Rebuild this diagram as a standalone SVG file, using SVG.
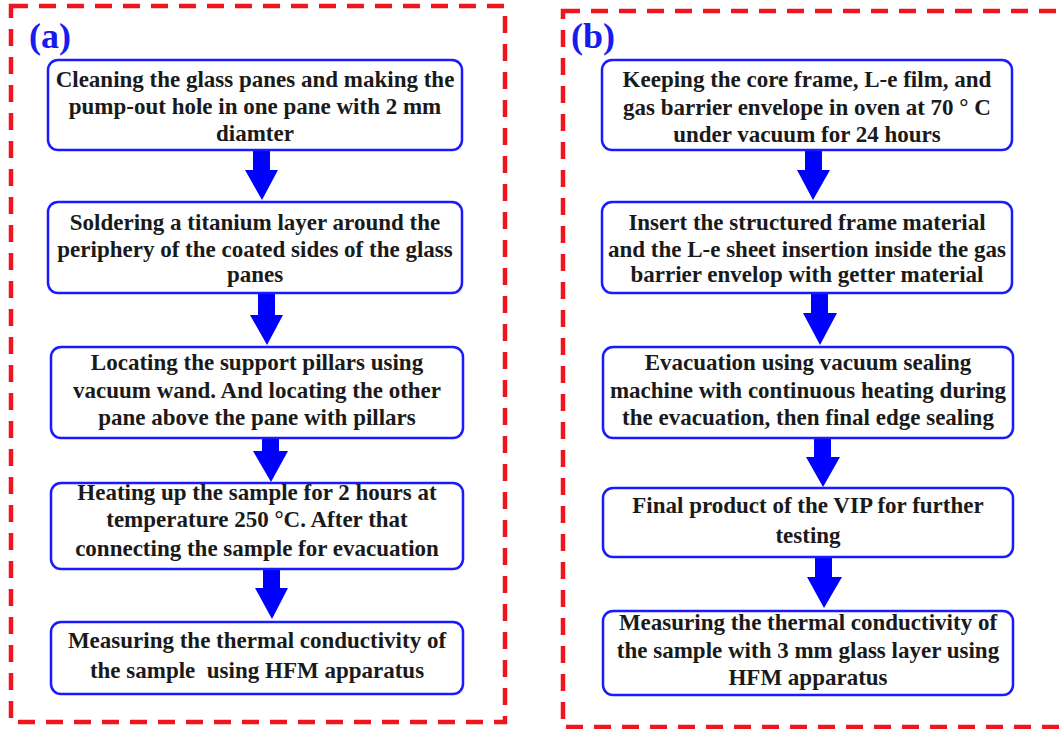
<svg xmlns="http://www.w3.org/2000/svg" width="1060" height="729" viewBox="0 0 1060 729">
<style>
.frame{fill:none;stroke:#f0141e;stroke-width:4.5;stroke-dasharray:17 11}
.box{fill:#fff;stroke:#1a1aff;stroke-width:2.5}
.t{font-family:"Liberation Serif","Times New Roman",serif;font-weight:bold;font-size:23px;fill:#1a1a1a;text-anchor:middle}
.lab{font-family:"Liberation Serif","Times New Roman",serif;font-weight:bold;font-size:36px;fill:#1a1aee}
.arr{fill:#0000ff}
</style>
<rect width="1060" height="729" fill="#fff"/>
<rect class="frame" x="11" y="6" width="494" height="716"/>
<rect class="frame" x="563" y="11" width="520" height="716"/>
<text class="lab" x="29" y="48">(a)</text>
<text class="lab" x="571" y="48">(b)</text>
<g id="connectors">
<path class="arr" d="M253,150 H270 V170 H278 L262,200 L245,170 H253 Z"/>
<path class="arr" d="M258,293 H275 V315 H283 L267,345 L250,315 H258 Z"/>
<path class="arr" d="M262,438 H279 V451 H288 L271,482 L253,451 H262 Z"/>
<path class="arr" d="M263,569 H280 V588 H288 L272,619 L255,588 H263 Z"/>
<path class="arr" d="M805,150 H822 V170 H830 L813,200 L797,170 H805 Z"/>
<path class="arr" d="M811,293 H828 V313 H837 L820,345 L803,313 H811 Z"/>
<path class="arr" d="M814,438 H831 V457 H840 L823,487 L806,457 H814 Z"/>
<path class="arr" d="M815,557 H832 V577 H842 L824,608 L807,577 H815 Z"/>
</g>
<g id="a1"><rect class="box" x="48" y="60" width="414" height="90" rx="10"/>
<text class="t"><tspan x="255" y="87">Cleaning the glass panes and making the</tspan><tspan x="255" y="114">pump-out hole in one pane with 2 mm</tspan><tspan x="255" y="141">diamter</tspan></text></g>
<g id="a2"><rect class="box" x="48" y="202" width="414" height="91" rx="10"/>
<text class="t"><tspan x="255" y="230">Soldering a titanium layer around the</tspan><tspan x="255" y="257">periphery of the coated sides of the glass</tspan><tspan x="255" y="282">panes</tspan></text></g>
<g id="a3"><rect class="box" x="51" y="347" width="412" height="91" rx="10"/>
<text class="t"><tspan x="257" y="370">Locating the support pillars using</tspan><tspan x="257" y="398">vacuum wand. And locating the other</tspan><tspan x="257" y="425">pane above the pane with pillars</tspan></text></g>
<g id="a4"><rect class="box" x="51" y="483" width="412" height="86" rx="10"/>
<text class="t"><tspan x="257" y="500">Heating up the sample for 2 hours at</tspan><tspan x="257" y="527">temperature 250 °C. After that</tspan><tspan x="257" y="556">connecting the sample for evacuation</tspan></text></g>
<g id="a5"><rect class="box" x="51" y="622" width="412" height="72" rx="10"/>
<text class="t"><tspan x="257" y="648">Measuring the thermal conductivity of</tspan><tspan x="257" y="678" xml:space="preserve">the sample  using HFM apparatus</tspan></text></g>
<g id="b1"><rect class="box" x="602" y="60" width="410" height="90" rx="10"/>
<text class="t"><tspan x="807" y="87">Keeping the core frame, L-e film, and</tspan><tspan x="807" y="115">gas barrier envelope in oven at 70 ° C</tspan><tspan x="807" y="142">under vacuum for 24 hours</tspan></text></g>
<g id="b2"><rect class="box" x="602" y="202" width="410" height="91" rx="10"/>
<text class="t"><tspan x="807" y="230">Insert the structured frame material</tspan><tspan x="807" y="257">and the L-e sheet insertion inside the gas</tspan><tspan x="807" y="282">barrier envelop with getter material</tspan></text></g>
<g id="b3"><rect class="box" x="603" y="347" width="410" height="91" rx="10"/>
<text class="t"><tspan x="808" y="370">Evacuation using vacuum sealing</tspan><tspan x="808" y="398">machine with continuous heating during</tspan><tspan x="808" y="425">the evacuation, then final edge sealing</tspan></text></g>
<g id="b4"><rect class="box" x="603" y="488" width="410" height="69" rx="10"/>
<text class="t"><tspan x="808" y="513">Final product of the VIP for further</tspan><tspan x="808" y="543">testing</tspan></text></g>
<g id="b5"><rect class="box" x="603" y="611" width="410" height="84" rx="10"/>
<text class="t"><tspan x="808" y="630">Measuring the thermal conductivity of</tspan><tspan x="808" y="658">the sample with 3 mm glass layer using</tspan><tspan x="808" y="685">HFM apparatus</tspan></text></g>
</svg>
